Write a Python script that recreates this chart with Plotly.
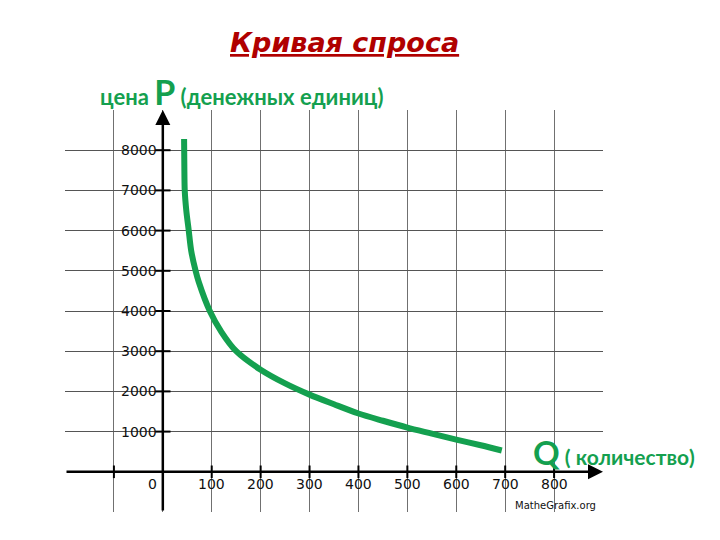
import plotly.graph_objects as go

# demand curve points (Q, P)
q_vals = [43.5, 44, 44.8, 48, 53, 58, 67, 73.5, 96, 120, 150, 200, 250, 300, 350, 400, 450, 500, 550, 600, 650, 693]
p_vals = [8280, 7600, 7000, 6500, 6000, 5500, 5000, 4720, 4000, 3475, 3000, 2540, 2200, 1920, 1680, 1450, 1270, 1100, 950, 800, 660, 530]

x_ticks = [100, 200, 300, 400, 500, 600, 700, 800]
y_ticks = [1000, 2000, 3000, 4000, 5000, 6000, 7000, 8000]
x_grid = [-200, -100, 0, 100, 200, 300, 400, 500, 600, 700, 800, 900]
y_grid = [1000, 2000, 3000, 4000, 5000, 6000, 7000, 8000]
x_range = [-200, 900]
y_range = [-1000, 9000]

GREEN = "#14a04f"
TICKFONT = dict(family="DejaVu Sans", size=14, color="#111")

fig = go.Figure()

# demand curve
fig.add_trace(go.Scatter(x=q_vals, y=p_vals, mode="lines",
                         line=dict(color=GREEN, width=6, shape="spline", smoothing=0.8),
                         hoverinfo="skip", showlegend=False))

# tick marks on the axes
fig.add_trace(go.Scatter(x=[0] * len(y_ticks), y=y_ticks, mode="markers",
                         marker=dict(symbol="line-ew", size=11, line=dict(color="black", width=2)),
                         hoverinfo="skip", showlegend=False))
fig.add_trace(go.Scatter(x=[-100] + x_ticks, y=[0] * (len(x_ticks) + 1), mode="markers",
                         marker=dict(symbol="line-ns", size=9, line=dict(color="black", width=2)),
                         hoverinfo="skip", showlegend=False))

annotations = []
# axes with arrows
annotations.append(dict(x=0, y=y_range[1], ax=0, ay=y_range[0], xref="x", yref="y",
                        axref="x", ayref="y", text="", showarrow=True,
                        arrowhead=2, arrowsize=1.2, arrowwidth=2.5, arrowcolor="black"))
annotations.append(dict(x=x_range[1], y=0, ax=x_range[0], ay=0, xref="x", yref="y",
                        axref="x", ayref="y", text="", showarrow=True,
                        arrowhead=2, arrowsize=1.2, arrowwidth=2.5, arrowcolor="black"))

# tick labels
for v in y_ticks:
    annotations.append(dict(x=0, y=v, xref="x", yref="y", text=str(v), showarrow=False,
                            xanchor="right", yanchor="middle", xshift=-4, font=TICKFONT))
for v in x_ticks:
    annotations.append(dict(x=v, y=0, xref="x", yref="y", text=str(v), showarrow=False,
                            xanchor="center", yanchor="top", yshift=-2, font=TICKFONT))
annotations.append(dict(x=0, y=0, xref="x", yref="y", text="0", showarrow=False,
                        xanchor="right", yanchor="top", xshift=-4, yshift=-2, font=TICKFONT))

# titles and labels (paper coords relative to plot area)
annotations.append(dict(x=0.5186, y=1.1667, xref="paper", yref="paper",
                        xanchor="center", yanchor="middle", showarrow=False,
                        text="<b><i><u>Кривая спроса</u></i></b>",
                        font=dict(family="DejaVu Sans", size=27, color="#b00000")))
annotations.append(dict(x=0.062, y=1.045, xref="paper", yref="paper",
                        xanchor="left", yanchor="middle", showarrow=False,
                        text="<b>цена <span style='font-size:34px'>P</span> (денежных единиц)</b>",
                        font=dict(family="Lato", size=22, color=GREEN)))
annotations.append(dict(x=0.866, y=0.149, xref="paper", yref="paper",
                        xanchor="left", yanchor="middle", showarrow=False,
                        text="<b><span style='font-size:33px'>Q</span> ( количество)</b>",
                        font=dict(family="Lato", size=21, color=GREEN)))
annotations.append(dict(x=0.9108, y=0.0174, xref="paper", yref="paper",
                        xanchor="center", yanchor="middle", showarrow=False,
                        text="MatheGrafix.org",
                        font=dict(family="DejaVu Sans", size=10, color="#111")))

fig.update_xaxes(range=x_range, tickvals=x_grid, showticklabels=False, showgrid=True,
                 gridcolor="#707070", gridwidth=1, zeroline=False, showline=False, ticks="")
fig.update_yaxes(range=y_range, tickvals=y_grid, showticklabels=False, showgrid=True,
                 gridcolor="#555555", gridwidth=1, zeroline=False, showline=False, ticks="")

# page body has an 8px margin, so the figure is offset by 8px
fig.update_layout(width=712, height=532, margin=dict(l=57, r=117, t=102, b=28),
                  plot_bgcolor="white", paper_bgcolor="white", showlegend=False,
                  annotations=annotations)

fig.write_html("out.html")
